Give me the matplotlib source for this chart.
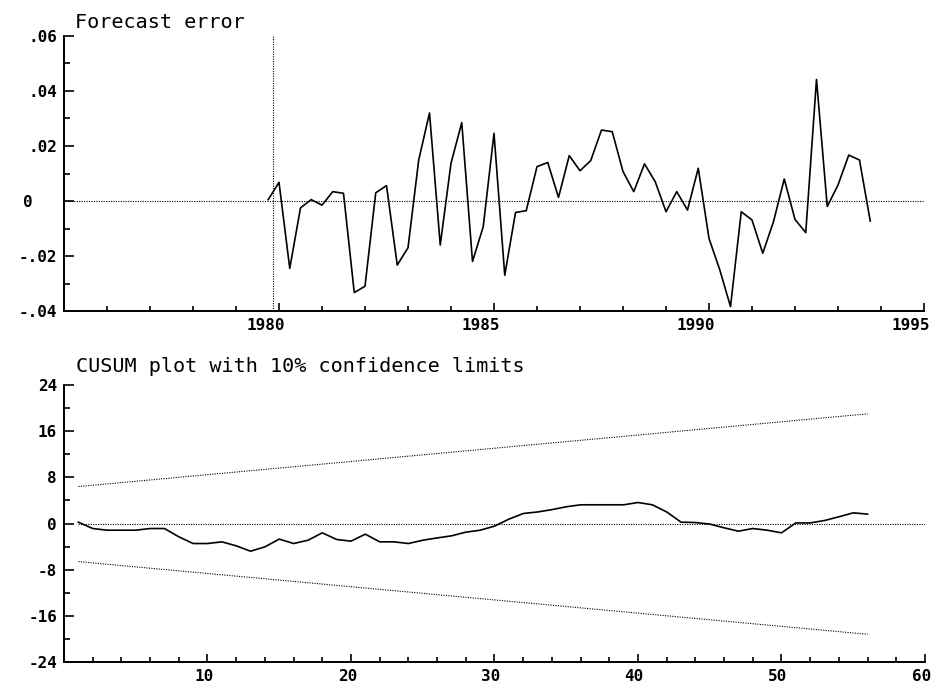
import numpy as np
import matplotlib
matplotlib.use("Agg")
import matplotlib.pyplot as plt
from matplotlib.ticker import MultipleLocator, FixedLocator
from matplotlib.transforms import ScaledTranslation

# Forecast error, quarterly from 1979Q4 to 1993Q4
err_start = 1979.75
err_vals = [0.0005, 0.0068, -0.0245, -0.0025, 0.0005, -0.0015, 0.0034, 0.0028,
            -0.0333, -0.0310, 0.0030, 0.0056, -0.0233, -0.0170, 0.0150, 0.0320,
            -0.0160, 0.0137, 0.0285, -0.0220, -0.0093, 0.0246, -0.0270, -0.0042,
            -0.0035, 0.0125, 0.0140, 0.0013, 0.0165, 0.0110, 0.0147, 0.0258,
            0.0252, 0.0107, 0.0034, 0.0135, 0.0070, -0.0039, 0.0034, -0.0033,
            0.0119, -0.0136, -0.0250, -0.0384, -0.0039, -0.0069, -0.0190, -0.0075,
            0.0080, -0.0067, -0.0115, 0.0442, -0.0020, 0.0058, 0.0167, 0.0149,
            -0.0073]
forecast_line = 1979.85

# CUSUM with 10% limits
cusum_vals = [0.23, -0.87, -1.16, -1.16, -1.16, -0.87, -0.87, -2.30, -3.47, -3.47,
              -3.18, -3.87, -4.80, -4.05, -2.70, -3.47, -2.90, -1.62, -2.77, -3.06,
              -1.85, -3.18, -3.18, -3.47, -2.90, -2.50, -2.14, -1.50, -1.16, -0.46,
              0.75, 1.73, 2.00, 2.40, 2.90, 3.24, 3.24, 3.24, 3.24, 3.64,
              3.24, 2.00, 0.23, 0.17, -0.10, -0.75, -1.33, -0.87, -1.16, -1.62,
              0.10, 0.10, 0.52, 1.16, 1.85, 1.62]
limit_t = [1, 56]
upper_limit = [6.4, 19.0]
lower_limit = [-6.6, -19.2]

top_yticks = [-0.04, -0.02, 0, 0.02, 0.04, 0.06]
top_ylabels = ["-.04", "-.02", "0", ".02", ".04", ".06"]
top_xticks = [1980, 1985, 1990, 1995]
bot_yticks = [-24, -16, -8, 0, 8, 16, 24]
bot_xticks = [10, 20, 30, 40, 50, 60]

err_t = err_start + 0.25 * np.arange(len(err_vals))
cusum_t = np.arange(1, len(cusum_vals) + 1)

fig = plt.figure(figsize=(9.34, 6.85), dpi=100)
ax1 = fig.add_axes([64 / 934, 1 - 311 / 685, 860 / 934, 275 / 685])
ax2 = fig.add_axes([64 / 934, 1 - 662 / 685, 861 / 934, 277 / 685])

tick_font = dict(family="DejaVu Sans Mono", weight="bold", size=11.5)
title_font = dict(family="DejaVu Sans Mono", size=14.5)
dots = (0, (1, 1.2))


def px(n):
    # pixel offset as a translation (figure is 100 dpi)
    return ScaledTranslation(n / 100, 0, fig.dpi_scale_trans)


def style_axes(ax, xpad, ypad):
    for side in ["top", "right"]:
        ax.spines[side].set_visible(False)
    for side in ["left", "bottom"]:
        ax.spines[side].set_linewidth(1.4)
        ax.spines[side].set_color("black")
    ax.tick_params(axis="y", which="major", direction="in", length=7.5,
                   width=1.2, pad=ypad)
    ax.tick_params(axis="y", which="minor", direction="in", length=4.5,
                   width=1.2)
    ax.tick_params(axis="x", which="major", direction="in", length=5.5,
                   width=1.2, pad=xpad)
    ax.tick_params(axis="x", which="minor", direction="in", length=3.5,
                   width=1.2)


# top panel
ax1.plot(err_t, err_vals, color="black", lw=1.2)
ax1.axhline(0, color="black", lw=0.8, ls=dots)
ax1.plot([forecast_line, forecast_line], [-0.04, 0.06], color="black",
         lw=0.8, ls=dots)
ax1.set_xlim(1975, 1995)
ax1.set_ylim(-0.04, 0.06)
ax1.xaxis.set_major_locator(FixedLocator(top_xticks))
ax1.xaxis.set_minor_locator(MultipleLocator(1))
ax1.yaxis.set_major_locator(FixedLocator(top_yticks))
ax1.yaxis.set_minor_locator(MultipleLocator(0.01))
ax1.set_xticklabels([str(y) for y in top_xticks], **tick_font)
ax1.set_yticklabels(top_ylabels, **tick_font)
style_axes(ax1, 5, 5)

# bottom panel
ax2.plot(cusum_t, cusum_vals, color="black", lw=1.2)
ax2.plot([1, 60], [0, 0], color="black", lw=0.8, ls=dots)
ax2.plot(limit_t, upper_limit, color="black", lw=0.8, ls=dots)
ax2.plot(limit_t, lower_limit, color="black", lw=0.8, ls=dots)
ax2.set_xlim(0, 60)
ax2.set_ylim(-24, 24)
ax2.xaxis.set_major_locator(FixedLocator(bot_xticks))
ax2.xaxis.set_minor_locator(MultipleLocator(2))
ax2.yaxis.set_major_locator(FixedLocator(bot_yticks))
ax2.yaxis.set_minor_locator(MultipleLocator(4))
ax2.set_xticklabels([str(v) for v in bot_xticks], **tick_font)
ax2.set_yticklabels([str(v) for v in bot_yticks], **tick_font)
style_axes(ax2, 5, 5)

# old-style labels sit a little to the left of their ticks
for ax in [ax1, ax2]:
    for lab in ax.get_xticklabels():
        lab.set_ha("right")
        lab.set_transform(lab.get_transform() + px(6))

# the zero label of the forecast error plot is left aligned
for lab in ax1.get_yticklabels():
    if lab.get_text() == "0":
        lab.set_ha("left")
        lab.set_transform(lab.get_transform() + px(-34))

fig.text(75 / 934, 1 - 28 / 685, "Forecast error", va="baseline", **title_font)
fig.text(76 / 934, 1 - 372 / 685, "CUSUM plot with 10% confidence limits",
         va="baseline", **title_font)

fig.savefig("out.png", dpi=100)
